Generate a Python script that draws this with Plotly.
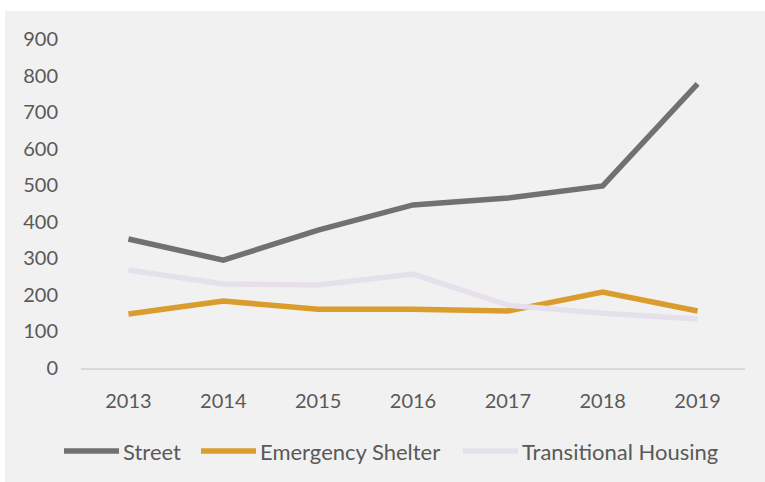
import plotly.graph_objects as go

years = ["2013", "2014", "2015", "2016", "2017", "2018", "2019"]
street = [353, 295, 377, 446, 465, 498, 777]
emergency = [148, 183, 161, 161, 156, 208, 156]
transitional = [268, 230, 227, 257, 172, 150, 134]
series_names = ["Street", "Emergency Shelter", "Transitional Housing"]
colors = ["#717171", "#DB9C2E", "#E6E0EC"]
y_ticks = [0, 100, 200, 300, 400, 500, 600, 700, 800, 900]

W, H = 765, 482
L, R, T, B = 81, 20, 39, 114
pw, ph = W - L - R, H - T - B
BG = "#F1F1F1"

def px(x):
    return (x - L) / pw

def py(y):
    return (H - B - y) / ph

fig = go.Figure()
for name, vals, col in zip(series_names, [street, emergency, transitional], colors):
    fig.add_trace(go.Scatter(x=years, y=vals, mode="lines", name=name,
                             line=dict(color=col, width=5.5), showlegend=False,
                             hoverinfo="skip"))

font = dict(family="Lato, Noto Sans, sans-serif", size=20, color="#595959")
leg_font = dict(family="Lato, Noto Sans, sans-serif", size=22, color="#595959")

shapes = [
    dict(type="rect", xref="paper", yref="paper", x0=px(-10), x1=px(5),
         y0=py(H + 10), y1=py(-10), fillcolor="white", line=dict(width=0), layer="below"),
    dict(type="rect", xref="paper", yref="paper", x0=px(-10), x1=px(W + 10),
         y0=py(11), y1=py(-10), fillcolor="white", line=dict(width=0), layer="below"),
]
annotations = []
leg_x = [64, 201, 463]
for name, col, lx in zip(series_names, colors, leg_x):
    shapes.append(dict(type="line", xref="paper", yref="paper", x0=px(lx), x1=px(lx + 55),
                       y0=py(451), y1=py(451), line=dict(color=col, width=5.5)))
    annotations.append(dict(xref="paper", yref="paper", x=px(lx + 57), y=py(451), text=name,
                            showarrow=False, xanchor="left", yanchor="middle", font=leg_font))

fig.update_layout(
    width=W, height=H,
    margin=dict(l=L, r=R, t=T, b=B),
    paper_bgcolor=BG, plot_bgcolor=BG,
    shapes=shapes, annotations=annotations,
    font=font,
    xaxis=dict(type="category", range=[-0.5, 6.5], showgrid=False, showline=True,
               linecolor="#D9D9D9", linewidth=1.5,
               ticks="", tickfont=font, ticklabelstandoff=14, zeroline=False),
    yaxis=dict(range=[0, 900], tickvals=y_ticks, showgrid=False, showline=False, zeroline=False,
               ticks="", tickfont=font, ticklabelstandoff=22),
)
fig.write_html("out.html", config={"displayModeBar": False},
               post_script="document.body.style.margin='0';"
                           "document.body.style.background='#F1F1F1';"
                           "document.body.style.overflow='hidden';")
